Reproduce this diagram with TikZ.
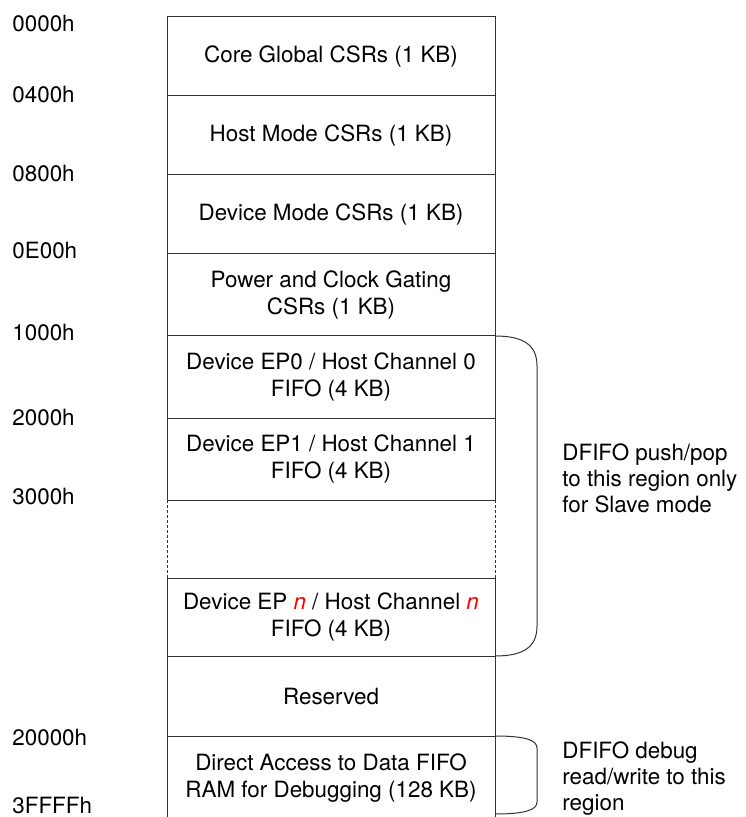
\documentclass[tikz,border=0pt]{standalone}
\usepackage{fontspec}
\setmainfont{TeX Gyre Heros}
\usepackage{xcolor}
\usetikzlibrary{positioning}
\colorlet{mapLine}{black!80}
\tikzset{
  region/.style={
    rectangle, draw=mapLine, line width=0.5pt,
    minimum width=164pt, outer sep=0pt, inner sep=0pt,
    align=center, font=\fontsize{11.2}{13.5}\selectfont
  },
  addr/.style={anchor=west, inner sep=0pt, font=\fontsize{11.2}{13.5}\selectfont},
  mapnote/.style={anchor=west, inner sep=0pt, align=left, font=\fontsize{11.2}{13}\selectfont},
  brace/.style={draw=mapLine, line width=0.5pt},
  gapline/.style={draw=mapLine, line width=0.5pt, dash pattern=on 1.5pt off 1pt}
}

\begin{document}
\begin{tikzpicture}[x=0.5pt,y=-0.5pt]
  \useasboundingbox (0,0) rectangle (745,817);
  \clip (0,0) rectangle (745,817);

  % memory map column
  \node[region, minimum height=39.5pt] (core) at (331,56.5) {Core Global CSRs (1 KB)};
  \node[region, minimum height=39.5pt, below=0pt of core] (host) {Host Mode CSRs (1 KB)};
  \node[region, minimum height=39.5pt, below=0pt of host] (dev) {Device Mode CSRs (1 KB)};
  \node[region, minimum height=41pt, below=0pt of dev] (pwr) {Power and Clock Gating\\CSRs (1 KB)};
  \node[region, minimum height=41pt, below=0pt of pwr] (ep0) {Device EP0 / Host Channel 0\\FIFO (4 KB)};
  \node[region, minimum height=41pt, below=0pt of ep0] (ep1) {Device EP1 / Host Channel 1\\FIFO (4 KB)};
  \node[region, minimum height=39pt, below=39pt of ep1] (epn)
    {Device EP \textcolor{red}{\textit{n}} / Host Channel \textcolor{red}{\textit{n}}\\FIFO (4 KB)};
  \node[region, minimum height=40pt, below=0pt of epn] (rsvd) {Reserved};
  \node[region, minimum height=42pt, below=0pt of rsvd] (dbg) {Direct Access to Data FIFO\\RAM for Debugging (128 KB)};

  \draw[gapline] (ep1.south west) -- (epn.north west);
  \draw[gapline] (ep1.south east) -- (epn.north east);

  % addresses
  \node[addr] (a0000) at (12,24) {0000h};
  \node[addr] (a0400) at (12,95) {0400h};
  \node[addr] (a0800) at (12,174) {0800h};
  \node[addr] (a0E00) at (12,251) {0E00h};
  \node[addr] (a1000) at (12,333) {1000h};
  \node[addr] (a2000) at (12,418) {2000h};
  \node[addr] (a3000) at (12,497) {3000h};
  \node[addr] (a20000) at (12,737) {20000h};
  \node[addr] (a3FFFF) at (12,805) {3FFFFh};

  % braces
  \draw[brace] (ep0.north east) .. controls +(30,0) and +(0,-20) .. ([xshift=21pt,yshift=-15pt]ep0.north east)
    -- ([xshift=21pt,yshift=15pt]epn.south east) .. controls +(0,20) and +(30,0) .. (epn.south east);
  \coordinate (dbgend) at ([yshift=-39pt]dbg.north east);
  \draw[brace] (dbg.north east) .. controls +(30,0) and +(0,-8) .. ([xshift=21pt,yshift=-6pt]dbg.north east)
    -- ([xshift=21pt,yshift=-33pt]dbg.north east) .. controls +(0,8) and +(30,0) .. (dbgend);

  \node[mapnote] (slavenote) at (562,478) {DFIFO push/pop\\to this region only\\for Slave mode};
  \node[mapnote] (dbgnote) at (562,779) {DFIFO debug\\read/write to this\\region};
\end{tikzpicture}
\end{document}
